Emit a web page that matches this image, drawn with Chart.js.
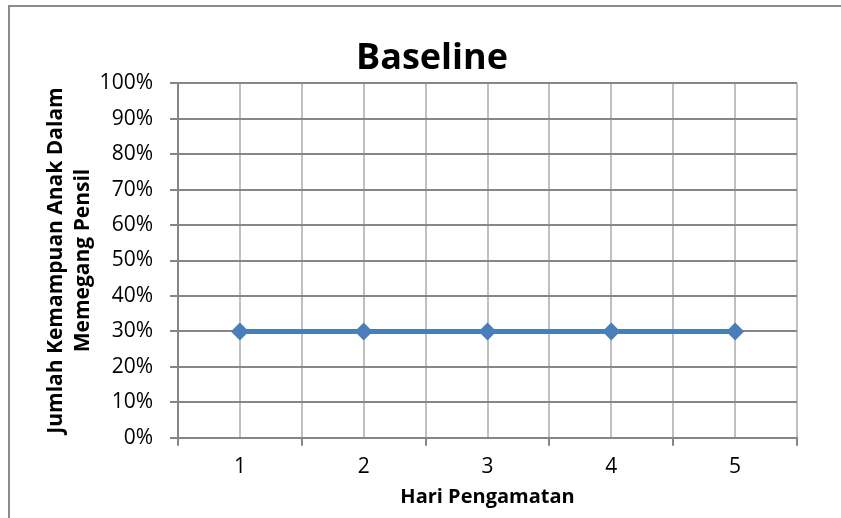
<!DOCTYPE html>
<html>
<head>
<meta charset="utf-8">
<script src="https://cdn.jsdelivr.net/npm/chart.js@4"></script>
<style>
  html, body { margin: 0; padding: 0; background: #fff; overflow: hidden; }
  #frame { position: absolute; left: 8px; top: 5px; width: 1000px; height: 1000px;
           border-top: 2px solid #8c8c8c; border-left: 2px solid #8c8c8c; }
  #chart { position: absolute; left: 0; top: 0; }
</style>
</head>
<body>
<div id="frame"></div>
<canvas id="chart" width="841" height="518"></canvas>
<script>
const days = ['1', '2', '3', '4', '5']
const baseline = [30, 30, 30, 30, 30]
const yTicks = [0, 10, 20, 30, 40, 50, 60, 70, 80, 90, 100]

const font = 'Open Sans'
const darkGrid = '#868686'
const lightGrid = '#c0c0c0'

const ctx = document.getElementById('chart').getContext('2d')

const chartData = {
  datasets: [{
    label: 'Baseline',
    data: days.map((d, i) => ({ x: i + 1, y: baseline[i] })),
    borderColor: '#4a7ebb',
    backgroundColor: '#4a7ebb',
    borderWidth: 5,
    pointStyle: 'rectRot',
    pointRadius: 9,
    pointBorderWidth: 0,
    pointBackgroundColor: '#4a7ebb'
  }]
}

const chartOptions = {
  responsive: false,
  animation: false,
  devicePixelRatio: 1,
  layout: { padding: { left: 42, right: 19, top: 27, bottom: 5 } },
  scales: {
    x: {
      type: 'linear',
      min: 0.5,
      max: days.length + 0.5,
      border: { color: darkGrid, width: 2 },
      grid: {
        color: lightGrid,
        lineWidth: 2,
        tickLength: 8,
        tickColor: (c) => Number.isInteger(c.tick.value) ? 'rgba(0,0,0,0)' : darkGrid
      },
      ticks: {
        stepSize: 0.5,
        autoSkip: false,
        maxRotation: 0,
        padding: 9,
        color: '#000',
        font: { family: font, size: 21 },
        callback: (v) => Number.isInteger(v) ? days[v - 1] : ''
      },
      title: {
        display: true,
        text: 'Hari Pengamatan',
        color: '#000',
        padding: { top: -4, bottom: 4 },
        font: { family: font, size: 20, weight: 'bold' }
      }
    },
    y: {
      min: 0,
      max: 100,
      border: { color: darkGrid, width: 2 },
      grid: { color: darkGrid, lineWidth: 2, tickLength: 8 },
      afterBuildTicks: (s) => { s.ticks = yTicks.map(v => ({ value: v })) },
      afterFit: (s) => { s.width = 136 },
      ticks: {
        padding: 17,
        color: '#000',
        font: { family: font, size: 21 },
        callback: (v) => v + '%'
      },
      title: {
        display: true,
        text: ['Jumlah Kemampuan Anak Dalam', 'Memegang Pensil'],
        color: '#000',
        padding: { top: 0, bottom: 4 },
        font: { family: font, size: 21, weight: 'bold', lineHeight: 1.3 }
      }
    },
    y2: {
      position: 'right',
      grid: { display: false },
      border: { display: false },
      ticks: { display: false },
      afterFit: (s) => { s.width = 25 }
    }
  },
  plugins: {
    legend: { display: false },
    tooltip: { enabled: false },
    title: {
      display: true,
      text: 'Baseline',
      color: '#000',
      padding: { top: 10, bottom: 3 },
      font: { family: font, size: 36, weight: 'bold', lineHeight: 1.2 }
    }
  }
}

const myChart = new Chart(ctx, {
  type: 'line',
  data: chartData,
  options: chartOptions
})
</script>
</body>
</html>
